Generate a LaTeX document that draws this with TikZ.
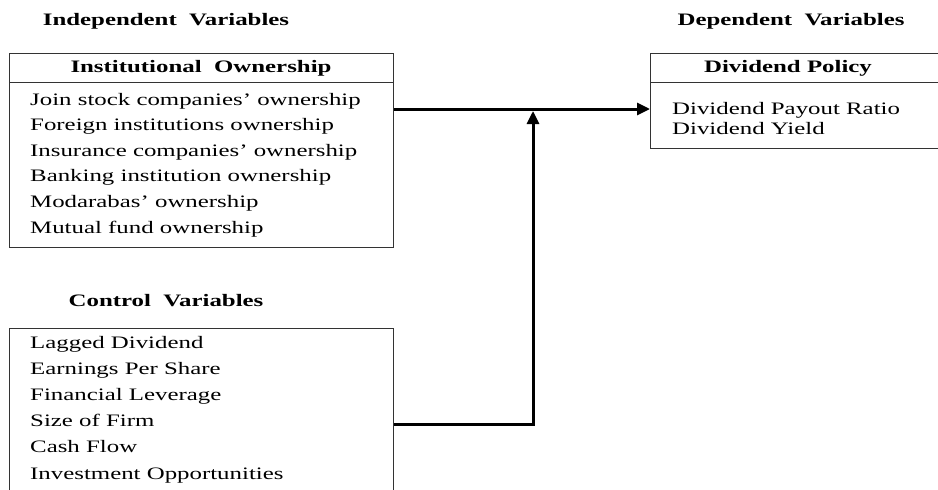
\documentclass[tikz,border=0pt]{standalone}
\usepackage{fontspec}
\setmainfont{Liberation Serif}[FakeStretch=1.42]
\usetikzlibrary{arrows.meta}
\newcommand{\diagfont}{\fontsize{17.5}{21}\selectfont}

\tikzset{
  heading/.style={font=\diagfont\bfseries, inner sep=0pt, anchor=base},
  entry/.style={font=\diagfont, inner sep=0pt, anchor=base west},
  frame/.style={draw=black!80, line width=1.4pt, anchor=north west, inner sep=0pt},
  link/.style={line width=3pt, -{Triangle[length=13pt,width=12pt]}}
}

\begin{document}
\begin{tikzpicture}[x=1pt, y=-1pt]
    \useasboundingbox (0,0) rectangle (938,490);
    \clip (0,0) rectangle (938,490);
    % group titles
    \node[heading] (indep) at (166,25) {Independent\ \ Variables};
    \node[heading] (dep) at (791,25) {Dependent\ \ Variables};
    \node[heading] (ctrl) at (166,306) {Control\ \ Variables};
    % institutional ownership
    \node[frame, minimum width=384pt, minimum height=29pt] (insthead) at (9,53) {};
    \node[frame, minimum width=384pt, minimum height=165pt] (instbox) at (9,82) {};
    \node[heading] (insttitle) at (201,72) {Institutional\ \ Ownership};
    \foreach \txt [count=\i] in {Join stock companies' ownership, Foreign institutions ownership,
        Insurance companies' ownership, Banking institution ownership,
        Modarabas' ownership, Mutual fund ownership}
        \node[entry] (own\i) at (30,{105+25.6*(\i-1)}) {\txt};
    % dividend policy
    \node[frame, minimum width=300pt, minimum height=29pt] (polhead) at (650,53) {};
    \node[frame, minimum width=300pt, minimum height=66pt] (polbox) at (650,82) {};
    \node[heading] (poltitle) at (788,72) {Dividend Policy};
    \node[entry] (payout) at (672,114) {Dividend Payout Ratio};
    \node[entry] (yield) at (672,134) {Dividend Yield};
    % control variables
    \node[frame, minimum width=384pt, minimum height=180pt] (ctrlbox) at (9,328) {};
    \foreach \txt [count=\i] in {Lagged Dividend, Earnings Per Share, Financial Leverage,
        Size of Firm, Cash Flow, Investment Opportunities}
        \node[entry] (ctl\i) at (30,{348+26.2*(\i-1)}) {\txt};
    % connectors
    \coordinate (join) at (533,111);
    \draw[link] (instbox.east |- 0,109) -- (polbox.west |- 0,109);
    \draw[link] (ctrlbox.east |- 0,424) -| (join);
\end{tikzpicture}
\end{document}
